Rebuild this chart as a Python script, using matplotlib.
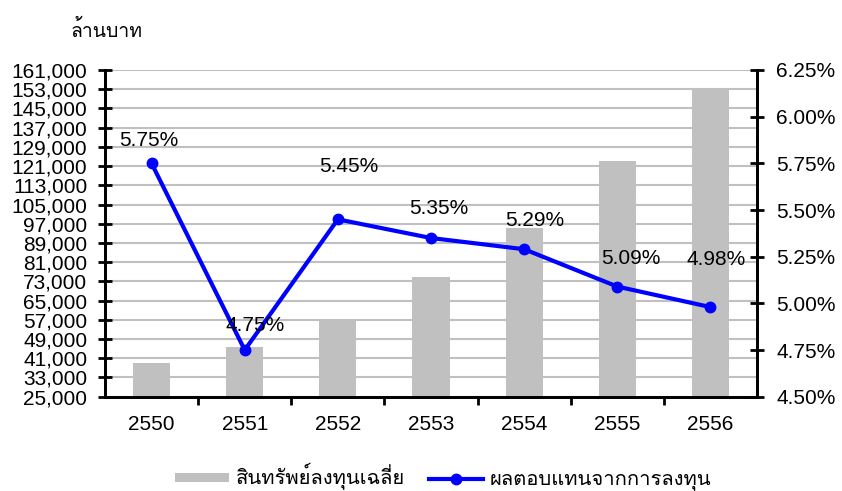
import matplotlib
matplotlib.use("Agg")
import matplotlib.pyplot as plt
from matplotlib.ticker import FixedLocator, FuncFormatter
import numpy as np

plt.rcParams['font.family'] = ['Liberation Sans', 'Loma']

years = ["2550", "2551", "2552", "2553", "2554", "2555", "2556"]
avg_assets = [38900, 45600, 56500, 74700, 95400, 123100, 152700]   # ล้านบาท
returns = [5.75, 4.75, 5.45, 5.35, 5.29, 5.09, 4.98]               # %
# where each percentage label sits relative to its point (pixels)
label_offsets = [(-3, 23), (10, 25), (11, 53), (8, 30), (11, 29), (14, 28), (6, 48)]

left_ticks = list(range(25000, 161001, 8000))
right_ticks = [4.50, 4.75, 5.00, 5.25, 5.50, 5.75, 6.00, 6.25]

FS = 15
fig = plt.figure(figsize=(8.42, 4.91), dpi=100)
ax = fig.add_axes([105 / 842, 1 - 396.7 / 491, (757 - 105) / 842, (396.7 - 70) / 491])
ax2 = ax.twinx()

x = np.arange(len(years))
ax.bar(x, avg_assets, width=0.4, color="#c0c0c0", zorder=2,
       label="สินทรัพย์ลงทุนเฉลี่ย")
ax.set_ylim(25000, 161000)
ax.set_xlim(-0.5, len(years) - 0.5)
ax.yaxis.set_major_locator(FixedLocator(left_ticks))
ax.yaxis.set_major_formatter(FuncFormatter(lambda v, p: f"{int(v):,}"))
ax.grid(axis="y", color="#c0c0c0", lw=1.5, zorder=0)
ax.set_axisbelow(True)

ax.set_xticks(x)
ax.set_xticklabels(years)
ax.set_xticks(np.arange(0.5, len(years) - 0.5, 1), minor=True)
ax.tick_params(axis="x", which="major", length=0, labelsize=FS, pad=13)
ax.tick_params(axis="x", which="minor", length=5.5, width=2, direction="out")
ax.tick_params(axis="y", length=9.5, width=2, direction="inout", labelsize=FS, pad=8)

ax2.plot(x, returns, color="#0000ff", lw=3, marker="o", markersize=7.5,
         zorder=3, label="ผลตอบแทนจากการลงทุน")
ax2.set_ylim(4.5, 6.25)
ax2.yaxis.set_major_locator(FixedLocator(right_ticks))
ax2.yaxis.set_major_formatter(FuncFormatter(lambda v, p: f"{v:.2f}%"))
ax2.tick_params(axis="y", length=9.5, width=2, direction="inout", labelsize=FS, pad=9)

for xi, r, (dx, dy) in zip(x, returns, label_offsets):
    ax2.annotate(f"{r:.2f}%", (xi, r), xytext=(dx, dy), textcoords="offset pixels",
                 ha="center", va="center", fontsize=FS, color="#000000")

for a in (ax, ax2):
    a.spines["top"].set_visible(False)
    for s in ("left", "right", "bottom"):
        a.spines[s].set_linewidth(2)
        a.spines[s].set_color("#000000")

fig.text(70 / 842, 1 - 30 / 491, "ล้านบาท", fontsize=14, va="center", ha="left",
         family=["Loma", "Liberation Sans"])

h1, l1 = ax.get_legend_handles_labels()
h2, l2 = ax2.get_legend_handles_labels()
leg = fig.legend(h1 + h2, l1 + l2, ncol=2, frameon=False, loc="center",
                 bbox_to_anchor=(443 / 842, 1 - 477 / 491),
                 handlelength=2.7, handleheight=0.35, columnspacing=1.2, handletextpad=0.3,
                 prop={"family": ["Loma", "Liberation Sans"], "size": 14.5})

fig.savefig("out.png", dpi=100)
